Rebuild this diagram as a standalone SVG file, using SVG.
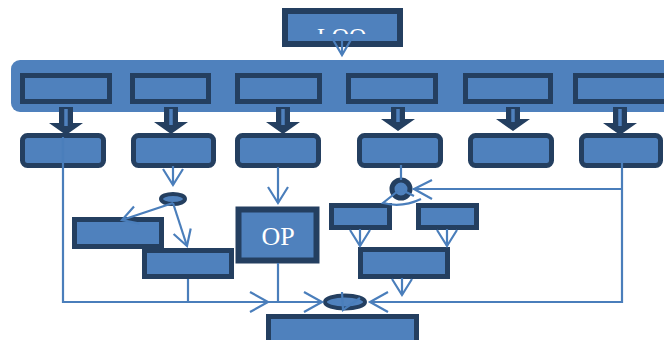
<svg xmlns="http://www.w3.org/2000/svg" width="664" height="340" viewBox="0 0 664 340">
<defs>
<style>
.box{fill:#4f81bd;stroke:#243f60;stroke-width:5}
.tk{fill:#243f60}
.st{stroke:#4f81bd;stroke-width:3.5;fill:none}
.ln{stroke:#4a7ebb;stroke-width:2.2;fill:none;stroke-linejoin:miter}
.t{font-family:"Liberation Serif",serif;fill:#ffffff}
</style>
<clipPath id="cl"><rect x="285" y="0" width="115" height="34"/></clipPath>
</defs>
<rect width="664" height="340" fill="#ffffff"/>
<g id="top">
<rect class="box" x="285" y="11" width="115" height="33" style="stroke-width:6"/>
<text class="t" x="317" y="44" font-size="24" clip-path="url(#cl)">LOO</text>
</g>
<g id="banner">
<rect x="11" y="60" width="680" height="52" rx="9" fill="#4f81bd"/>
</g>
<g id="r1">
<rect class="box" x="22.5" y="75.5" width="87" height="26"/>
<rect class="box" x="132.5" y="75.5" width="76" height="26"/>
<rect class="box" x="237.5" y="75.5" width="82" height="26"/>
<rect class="box" x="348.5" y="75.5" width="87" height="26"/>
<rect class="box" x="465.5" y="75.5" width="85" height="26"/>
<rect class="box" x="575.5" y="75.5" width="95" height="26"/>
</g>
<g id="thick">
<polygon class="tk" points="59,107 73,107 73,123 83,123 66,135 49,123 59,123"/>
<line class="st" x1="66" y1="109" x2="66" y2="126"/>
<polygon class="tk" points="164,107 178,107 178,122 188,122 171,134 154,122 164,122"/>
<line class="st" x1="171" y1="109" x2="171" y2="125"/>
<polygon class="tk" points="276,107 290,107 290,122 300,122 283,134 266,122 276,122"/>
<line class="st" x1="283" y1="109" x2="283" y2="125"/>
<polygon class="tk" points="391,107 405,107 405,119 415,119 398,131 381,119 391,119"/>
<line class="st" x1="398" y1="109" x2="398" y2="122"/>
<polygon class="tk" points="506,107 520,107 520,119 530,119 513,131 496,119 506,119"/>
<line class="st" x1="513" y1="109" x2="513" y2="122"/>
<polygon class="tk" points="613,107 627,107 627,123 637,123 620,135 603,123 613,123"/>
<line class="st" x1="620" y1="109" x2="620" y2="126"/>
</g>
<g id="r2">
<rect class="box" x="22.5" y="135.5" width="81" height="30" rx="5"/>
<rect class="box" x="133.5" y="135.5" width="80" height="30" rx="5"/>
<rect class="box" x="237.5" y="135.5" width="81" height="30" rx="5"/>
<rect class="box" x="359.5" y="135.5" width="81" height="30" rx="5"/>
<rect class="box" x="470.5" y="135.5" width="81" height="30" rx="5"/>
<rect class="box" x="581.5" y="135.5" width="79" height="30" rx="5"/>
</g>
<g id="boxA"><rect class="box" x="74.5" y="219.5" width="87" height="27"/></g>
<g id="boxB"><rect class="box" x="144.5" y="250.5" width="87" height="26"/></g>
<g id="op">
<rect class="box" x="238.5" y="209.5" width="78" height="51" style="stroke-width:6"/>
<text class="t" x="278" y="245" font-size="26" text-anchor="middle">OP</text>
</g>
<g id="sl"><rect class="box" x="331.5" y="205.5" width="58" height="22"/></g>
<g id="sr"><rect class="box" x="418.5" y="205.5" width="58" height="22"/></g>
<g id="sb"><rect class="box" x="360.5" y="249.5" width="87" height="27"/></g>
<g id="bottom"><rect class="box" x="268.5" y="316.5" width="148" height="30"/></g>
<g id="nodes">
<ellipse cx="173" cy="199" rx="12" ry="5" fill="#4f81bd" stroke="#243f60" stroke-width="4"/>
<circle cx="401" cy="189" r="9" fill="#4f81bd" stroke="#243f60" stroke-width="5"/>
<ellipse cx="345" cy="302" rx="20" ry="6.5" fill="#4f81bd" stroke="#243f60" stroke-width="4"/>
</g>
<g id="connectors">
<polyline class="ln" points="332,38 342,55 352,38"/>
<line class="ln" x1="342" y1="40" x2="342" y2="55"/>
<path class="ln" d="M63 137 V302 H322"/>
<polyline class="ln" points="250,292 268,302 250,312"/>
<polyline class="ln" points="304,292 322,302 304,312"/>
<line class="ln" x1="173" y1="166" x2="173" y2="185"/>
<polyline class="ln" points="163,169 173,185 183,169"/>
<line class="ln" x1="173" y1="203" x2="122" y2="220"/>
<polyline class="ln" points="134,206.5 122,220 139.6,223.6"/>
<line class="ln" x1="173" y1="203" x2="187" y2="246"/>
<polyline class="ln" points="173.6,234 187,246 190.7,228.4"/>
<line class="ln" x1="188" y1="279" x2="188" y2="302"/>
<line class="ln" x1="278" y1="167" x2="278" y2="203"/>
<polyline class="ln" points="268,187 278,203 288,187"/>
<line class="ln" x1="278" y1="263" x2="278" y2="302"/>
<line class="ln" x1="401" y1="165" x2="401" y2="180"/>
<path class="ln" d="M622 163 V302 H370"/>
<polyline class="ln" points="388,292 370,302 388,312"/>
<line class="ln" x1="622" y1="189" x2="413" y2="189"/>
<polyline class="ln" points="432,180 414,189 432,199"/>
<path class="ln" d="M398 191 L383 203 Q402 208 421 199 M404 191 L414 196"/>
<line class="ln" x1="360" y1="229" x2="360" y2="246"/>
<polyline class="ln" points="350,230 360,246 370,230"/>
<line class="ln" x1="447" y1="229" x2="447" y2="246"/>
<polyline class="ln" points="437,230 447,246 457,230"/>
<line class="ln" x1="402" y1="278" x2="402" y2="295"/>
<polyline class="ln" points="392,279 402,295 412,279"/>
<path class="ln" d="M342 292 L343 310 L360 298"/>
</g>
</svg>
